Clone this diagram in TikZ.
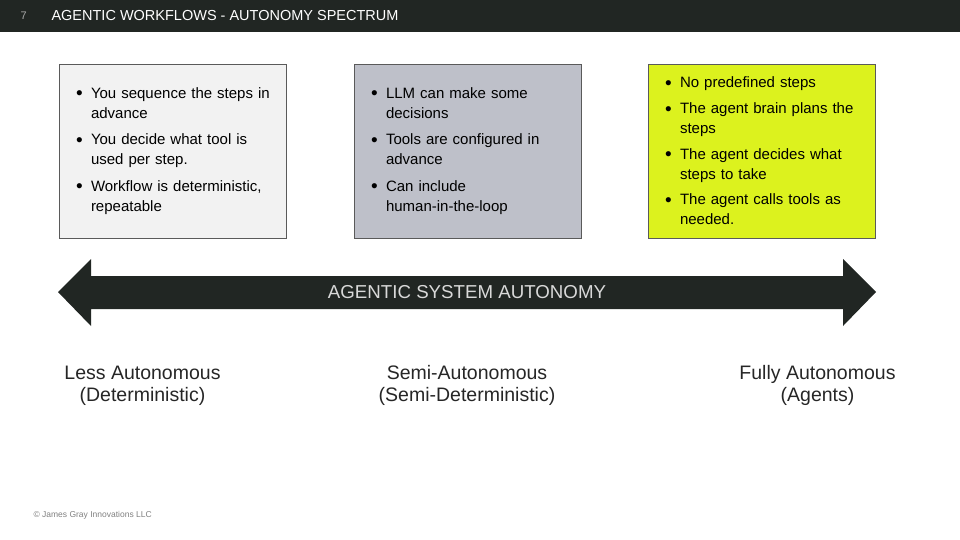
\documentclass[tikz,border=0pt]{standalone}
\usepackage{fontspec}
\setmainfont{Liberation Sans}
\usepackage{xcolor}
\usetikzlibrary{positioning}

\definecolor{barbg}{HTML}{212623}
\definecolor{boxgray}{HTML}{F2F2F2}
\definecolor{boxslate}{HTML}{BEC0C9}
\definecolor{boxlime}{HTML}{DCF21E}
\definecolor{edgegray}{HTML}{5A5A5A}
\definecolor{inkgray}{HTML}{262626}

% bullet items: two-line and one-line
\newcommand{\bdot}{\makebox[15pt][l]{\fontsize{19}{19}\selectfont\raisebox{-1.6pt}{\textbullet}}}
\newcommand{\bul}[2]{\hangindent=15pt\hangafter=1%
  \bdot\mbox{#1}\newline\mbox{#2}\par}
\newcommand{\bulone}[1]{\hangindent=15pt\hangafter=1\bdot\mbox{#1}\par}

\begin{document}
\begin{tikzpicture}[
  x=1pt, y=-1pt,
  pbox/.style={draw=edgegray, line width=0.8pt, minimum width=227pt,
               minimum height=174pt, text width=193pt, inner sep=0pt,
               align=left, text=black,
               font=\fontsize{15}{20}\selectfont\setlength{\parskip}{6.5pt}%
                    \setlength{\parindent}{0pt}},
  levellbl/.style={align=center, text=inkgray,
               font=\fontsize{19.5}{22}\selectfont},
]
\useasboundingbox (0,0) rectangle (960,540);

% header bar
\fill[barbg] (0,0) rectangle (960,32);
\node[anchor=west, text=gray!70, font=\fontsize{11}{13}\selectfont] (pnum) at (17,16) {7};
\node[anchor=west, text=white, font=\fontsize{14.5}{16}\selectfont] (title) at (48,16)
  {AGENTIC WORKFLOWS - AUTONOMY SPECTRUM};

% three description boxes
\node[pbox, fill=boxgray] (less) at (172.5,151)
  {\bul{You sequence the steps in}{advance}
   \bul{You decide what tool is}{used per step.}
   \bul{Workflow is deterministic,}{repeatable}};
\node[pbox, fill=boxslate] (semi) at (467.5,151)
  {\bul{LLM can make some}{decisions}
   \bul{Tools are configured in}{advance}
   \bul{Can include}{human-in-the-loop}};
\node[pbox, fill=boxlime] (full) at (761.5,151)
  {\setlength{\parskip}{5.6pt}%
   \bulone{No predefined steps}
   \bul{The agent brain plans the}{steps}
   \bul{The agent decides what}{steps to take}
   \bul{The agent calls tools as}{needed.}};

% double-headed autonomy arrow
\fill[barbg] (58,292) -- (91,259) -- (91,276) -- (843,276) -- (843,259)
  -- (876,292) -- (843,326) -- (843,309) -- (91,309) -- (91,326) -- cycle;
\node[text=gray!30, font=\fontsize{18.7}{20}\selectfont] (axis) at (467,292)
  {AGENTIC SYSTEM AUTONOMY};

% level labels
\node[levellbl] (lessl) at (142.5,385.5) {Less Autonomous\\(Deterministic)};
\node[levellbl] (semil) at (467,385.5) {Semi-Autonomous\\(Semi-Deterministic)};
\node[levellbl] (fulll) at (817.5,385.5) {Fully Autonomous\\(Agents)};

% footer
\node[anchor=west, text=gray, font=\fontsize{8.5}{10}\selectfont] (copy) at (30,515)
  {© James Gray Innovations LLC};
\end{tikzpicture}
\end{document}
